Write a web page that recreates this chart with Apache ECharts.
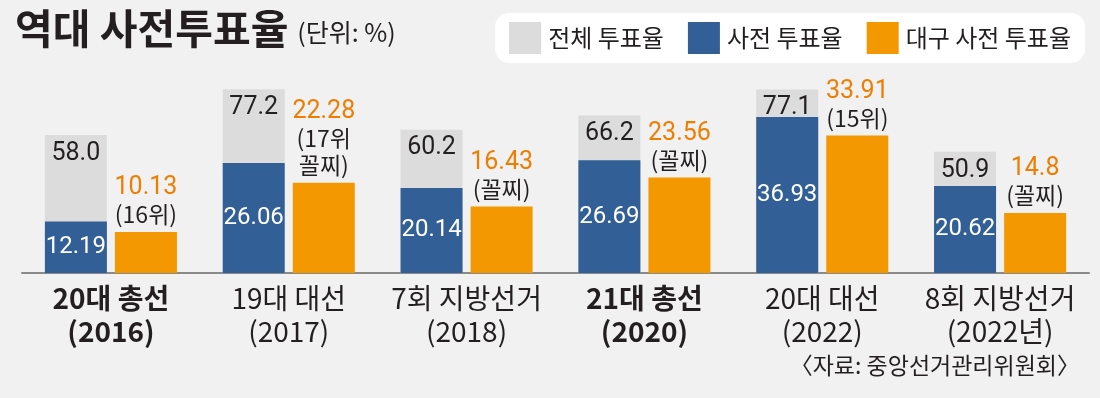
<!DOCTYPE html>
<html>
<head>
<meta charset="utf-8">
<script src="https://cdn.jsdelivr.net/npm/echarts@6/dist/echarts.min.js"></script>
<style>
  html, body { margin: 0; padding: 0; background: #f1f1f1; }
  #chart { width: 1100px; height: 398px; }
</style>
</head>
<body>
<div id="chart"></div>
<script>
// 데이터
var categories = ['20대 총선\n(2016)', '19대 대선\n(2017)', '7회 지방선거\n(2018)', '21대 총선\n(2020)', '20대 대선\n(2022)', '8회 지방선거\n(2022년)'];
var boldCats = [true, false, false, true, false, false];
var totalRate = [58.0, 77.2, 60.2, 66.2, 77.1, 50.9];
var earlyRate = [12.19, 26.06, 20.14, 26.69, 36.93, 20.62];
var daeguRate = [10.13, 22.28, 16.43, 23.56, 33.91, 14.8];
var daeguRank = ['(16위)', '(17위\n꼴찌)', '(꼴찌)', '(꼴찌)', '(15위)', '(꼴찌)'];

var numFont = 'Roboto, "Liberation Sans", sans-serif';
var krFont = '"Noto Sans CJK KR", sans-serif';

var myChart = echarts.init(document.getElementById('chart'));

var catData = categories.map(function (c, i) {
  return { value: c, textStyle: { fontWeight: boldCats[i] ? 'bold' : 'normal' } };
});

var option = {
  backgroundColor: '#f1f1f1',
  animation: false,
  title: {
    left: 10,
    top: 3,
    text: '{a|역대 사전투표율} {b|(단위: %)}',
    textStyle: {
      rich: {
        a: { fontFamily: krFont, fontWeight: 'bold', fontSize: 41, color: '#231f20' },
        b: { fontFamily: krFont, fontWeight: 'normal', fontSize: 25, color: '#231f20', padding: [9, 0, 0, 4] }
      }
    }
  },
  legend: {
    data: ['전체 투표율', '사전 투표율', '대구 사전 투표율'],
    right: 15,
    top: 13,
    icon: 'rect',
    itemWidth: 32,
    itemHeight: 32,
    itemGap: 24,
    padding: [9, 14],
    backgroundColor: '#ffffff',
    borderRadius: 14,
    textStyle: { fontFamily: krFont, fontSize: 24, color: '#231f20', padding: [0, 0, 0, 2] }
  },
  grid: { left: 22, right: 11, top: 40, bottom: 125 },
  xAxis: [{
    type: 'category',
    data: catData,
    axisLine: { lineStyle: { color: '#8a8a8a', width: 2 } },
    axisTick: { show: false },
    axisLabel: { fontFamily: krFont, fontSize: 28, lineHeight: 33, color: '#231f20', margin: 9, interval: 0 }
  }, {
    type: 'category',
    data: categories,
    show: false
  }],
  // 막대 높이 배율이 계열마다 달라서 축을 따로 둠
  yAxis: [
    { type: 'value', min: 0, max: 97.9, show: false },
    { type: 'value', min: 0, max: 55.2, show: false },
    { type: 'value', min: 0, max: 57.5, show: false }
  ],
  series: [{
    name: '전체 투표율',
    type: 'bar',
    xAxisIndex: 0,
    yAxisIndex: 0,
    barWidth: 62,
    barGap: '13%',
    data: totalRate,
    itemStyle: { color: '#dcdcdc' },
    label: {
      show: true,
      position: 'insideTop',
      distance: 6,
      fontFamily: numFont,
      fontSize: 25,
      color: '#231f20',
      formatter: function (p) { return p.value.toFixed(1); }
    }
  }, {
    name: 'spacer',
    type: 'bar',
    xAxisIndex: 0,
    yAxisIndex: 0,
    barWidth: 62,
    barGap: '13%',
    data: totalRate.map(function () { return null; })
  }, {
    name: '사전 투표율',
    type: 'bar',
    xAxisIndex: 1,
    yAxisIndex: 1,
    barWidth: 62,
    barGap: '13%',
    data: earlyRate,
    itemStyle: { color: '#325f95' },
    label: {
      show: true,
      position: 'inside',
      fontFamily: numFont,
      fontSize: 24,
      color: '#ffffff'
    }
  }, {
    name: '대구 사전 투표율',
    type: 'bar',
    xAxisIndex: 1,
    yAxisIndex: 2,
    barWidth: 62,
    barGap: '13%',
    data: daeguRate,
    itemStyle: { color: '#f39800' },
    label: {
      show: true,
      position: 'top',
      distance: 4,
      formatter: function (p) {
        return '{v|' + p.value + '}\n{r|' + daeguRank[p.dataIndex].replace('\n', '}\n{r|') + '}';
      },
      rich: {
        v: { fontFamily: numFont, fontSize: 25, color: '#ee7d00', lineHeight: 26, align: 'center' },
        r: { fontFamily: krFont, fontSize: 23, color: '#231f20', lineHeight: 27, align: 'center' }
      }
    }
  }],
  graphic: [{
    type: 'text',
    right: 20,
    top: 354,
    style: {
      text: '〈자료: 중앙선거관리위원회〉',
      font: '23px "Noto Sans CJK KR", sans-serif',
      fill: '#231f20'
    }
  }]
};

myChart.setOption(option);
</script>
</body>
</html>
